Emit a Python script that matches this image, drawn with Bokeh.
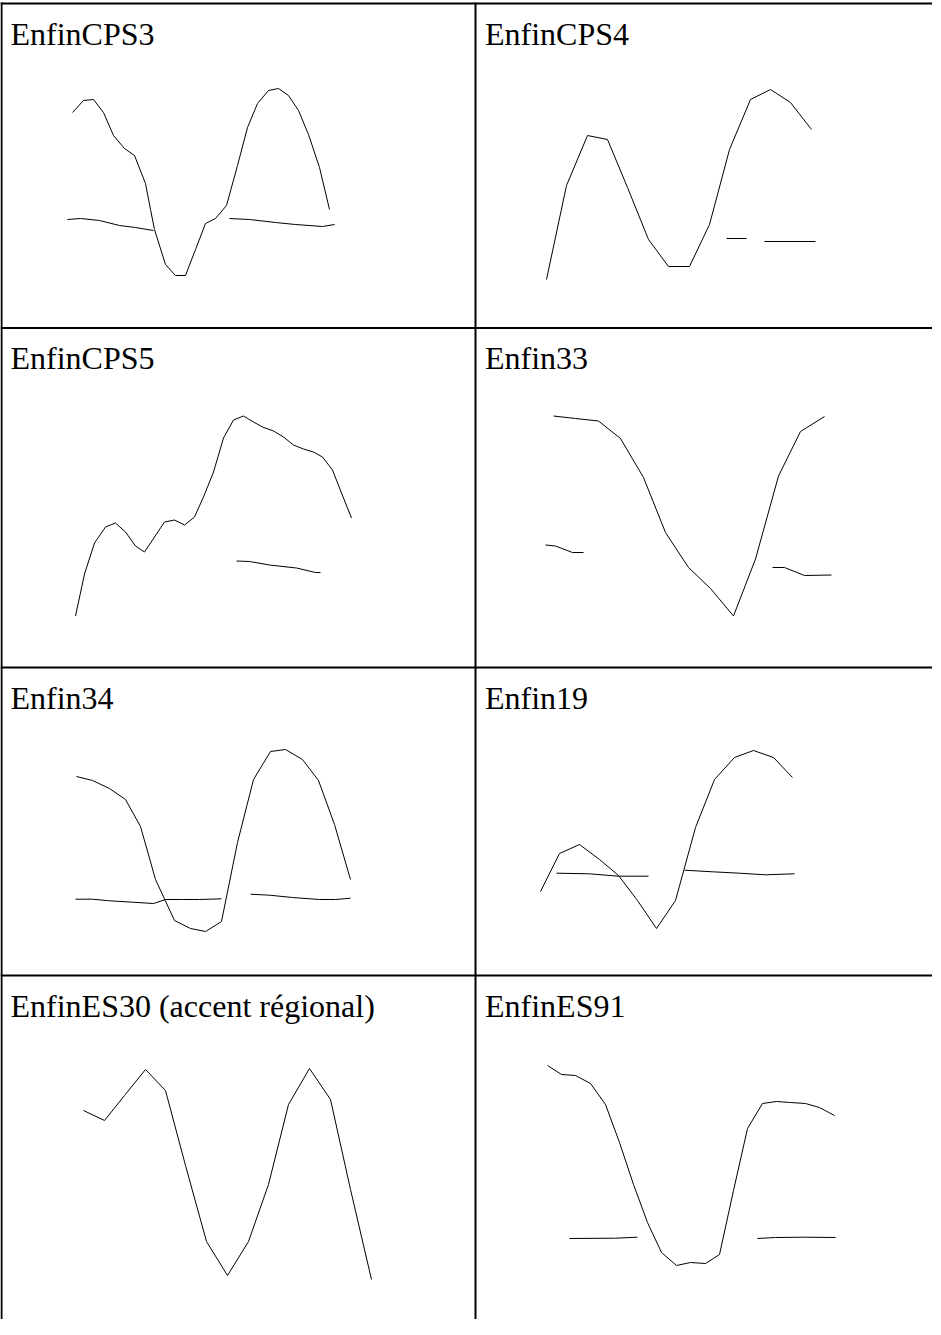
from bokeh.plotting import figure
from bokeh.models import Range1d, Label
from bokeh.embed import file_html
from bokeh.resources import INLINE

# ---------------- data (time units, pitch units) -------------
titles = ["EnfinCPS3", "EnfinCPS4", "EnfinCPS5", "Enfin33",
          "Enfin34", "Enfin19", "EnfinES30 (accent régional)", "EnfinES91"]

cps3_main_t = [72, 83, 93, 103, 113, 124, 134, 145, 150, 154, 165, 175, 185, 195, 205, 215,
               226, 237, 247, 257, 268, 278, 288, 298, 308, 319, 329]
cps3_main_p = [211, 223, 224, 211, 188, 175, 168, 140, 114, 94, 59, 48, 48, 74, 100, 105,
               118, 158, 196, 220, 233, 235, 228, 213, 189, 156, 114]
cps3_low1_t = [67, 80, 99, 119, 135, 153]
cps3_low1_p = [104, 105, 103, 98, 96, 93]
cps3_low2_t = [229, 249, 275, 295, 322, 334]
cps3_low2_p = [105, 104, 101, 99, 97, 99]

cps4_main_t = [71, 91, 112, 132, 152, 173, 193, 214, 234, 254, 275, 295, 315, 336]
cps4_main_p = [44, 138, 188, 184, 136, 84, 57, 57, 99, 174, 224, 234, 221, 194]
cps4_low1_t = [251, 271]
cps4_low1_p = [85, 85]
cps4_low2_t = [289, 340]
cps4_low2_p = [82, 82]

cps5_main_t = [75, 84, 94, 105, 115, 125, 135, 144, 154, 164, 174, 184, 194, 203, 213,
               223, 233, 243, 253, 262, 273, 283, 293, 303, 313, 322, 332, 341, 351]
cps5_main_p = [32, 74, 105, 121, 125, 116, 102, 96, 111, 126, 128, 123, 131, 151, 176,
               210, 228, 232, 226, 221, 217, 211, 203, 199, 196, 191, 178, 155, 130]
cps5_low1_t = [236, 249, 269, 296, 315, 320]
cps5_low1_p = [87, 86.5, 83, 80, 75.5, 75.5]

e33_main_t = [78, 100, 123, 145, 168, 190, 213, 235, 258, 280, 303, 325, 349]
e33_main_p = [232, 229.5, 227, 209.5, 170.5, 115.5, 80.5, 59.5, 32, 89, 172, 216.5, 231.5]
e33_low1_t = [70, 80, 97, 108]
e33_low1_p = [103, 102, 95.5, 95.5]
e33_low2_t = [297, 309, 329, 356]
e33_low2_p = [80.5, 80.5, 72.5, 73]

e34_main_t = [76, 92, 109, 125, 140, 155, 174, 190, 205, 221, 237, 253, 270, 285, 302,
              318, 334, 350]
e34_main_p = [211, 207, 199, 188, 161, 108, 67, 59, 56, 66, 145, 208, 236, 238, 228,
              207, 163, 108]
e34_low1_t = [75, 92, 109, 132, 153, 165, 182, 199, 221]
e34_low1_p = [88.3, 88.3, 86.7, 85.3, 84, 88, 88, 88, 88.7]
e34_low2_t = [250, 269, 292, 319, 335, 350]
e34_low2_p = [93.3, 92.3, 90, 88, 88, 89.3]

e19_main_t = [65, 84, 104, 124, 143, 162, 181, 200, 220, 239, 259, 278, 298, 317]
e19_main_p = [96, 134, 143, 128, 112, 87, 59, 87, 160, 208, 230, 237, 230, 210]
e19_low1_t = [81, 114, 143, 173]
e19_low1_p = [114.3, 113.7, 111.3, 111.3]
e19_low2_t = [209, 237, 264, 290, 319]
e19_low2_p = [117.3, 115.7, 114.3, 112.7, 113.7]

es30_main_t = [83, 104, 124, 145, 165, 185, 206, 227, 248, 268, 288, 309, 330, 350, 371]
es30_main_p = [185, 175, 200, 226, 205, 130, 54, 20, 54, 111, 191, 227, 196, 106, 16]

es91_main_t = [72, 86, 100, 115, 130, 144, 158, 172, 186, 201, 215, 230, 244, 258, 272,
               287, 301, 315, 330, 344, 359]
es91_main_p = [230, 221, 220, 212, 191, 153, 111, 73, 43, 30, 33, 32, 41, 105, 167,
               192, 194, 193, 192, 188, 180]
es91_low1_t = [94, 140, 162]
es91_low1_p = [57, 57.3, 58.3]
es91_low2_t = [282, 300, 330, 360]
es91_low2_p = [57, 58, 58.3, 58]

panel_curves = [
    [(cps3_main_t, cps3_main_p), (cps3_low1_t, cps3_low1_p), (cps3_low2_t, cps3_low2_p)],
    [(cps4_main_t, cps4_main_p), (cps4_low1_t, cps4_low1_p), (cps4_low2_t, cps4_low2_p)],
    [(cps5_main_t, cps5_main_p), (cps5_low1_t, cps5_low1_p)],
    [(e33_main_t, e33_main_p), (e33_low1_t, e33_low1_p), (e33_low2_t, e33_low2_p)],
    [(e34_main_t, e34_main_p), (e34_low1_t, e34_low1_p), (e34_low2_t, e34_low2_p)],
    [(e19_main_t, e19_main_p), (e19_low1_t, e19_low1_p), (e19_low2_t, e19_low2_p)],
    [(es30_main_t, es30_main_p)],
    [(es91_main_t, es91_main_p), (es91_low1_t, es91_low1_p), (es91_low2_t, es91_low2_p)],
]

# ---------------- layout ----------------
W, H = 932, 1319
X0, Y0 = 8, 8
col_left = [8, 483]
row_top = [11, 335.5, 675, 983]
P_BASE = 320          # pitch baseline offset inside a cell
TITLE_FONT = "Liberation Serif"

p = figure(width=W, height=H, x_range=Range1d(X0, X0 + W), y_range=Range1d(Y0 + H, Y0),
           output_backend="svg", toolbar_location=None, min_border=0,
           x_axis_location=None, y_axis_location=None)
p.grid.visible = False
p.outline_line_color = None
p.background_fill_color = "white"
p.border_fill_color = "white"

xs, ys = [], []
for i, curves in enumerate(panel_curves):
    r, c = divmod(i, 2)
    cl, rt = col_left[c], row_top[r]
    for t, f in curves:
        xs.append([cl + v for v in t])
        ys.append([rt + P_BASE - v for v in f])
    p.add_layout(Label(x=cl + (10 if c == 0 else 9.5), y=rt + 30, text=titles[i],
                       text_font=TITLE_FONT, text_font_size="32px", text_color="black",
                       text_baseline="alphabetic", text_align="left"))

# table rules
vx = [9, 483]
p.segment(x0=vx, y0=[10] * len(vx), x1=vx, y1=[Y0 + H] * len(vx),
          line_color="black", line_width=2)
p.segment(x0=[8] * len(row_top), y0=row_top, x1=[X0 + W] * len(row_top), y1=row_top,
          line_color="black", line_width=2)

p.multi_line(xs=xs, ys=ys, line_color="black", line_width=1)

open("out.html", "w").write(file_html(p, INLINE))
